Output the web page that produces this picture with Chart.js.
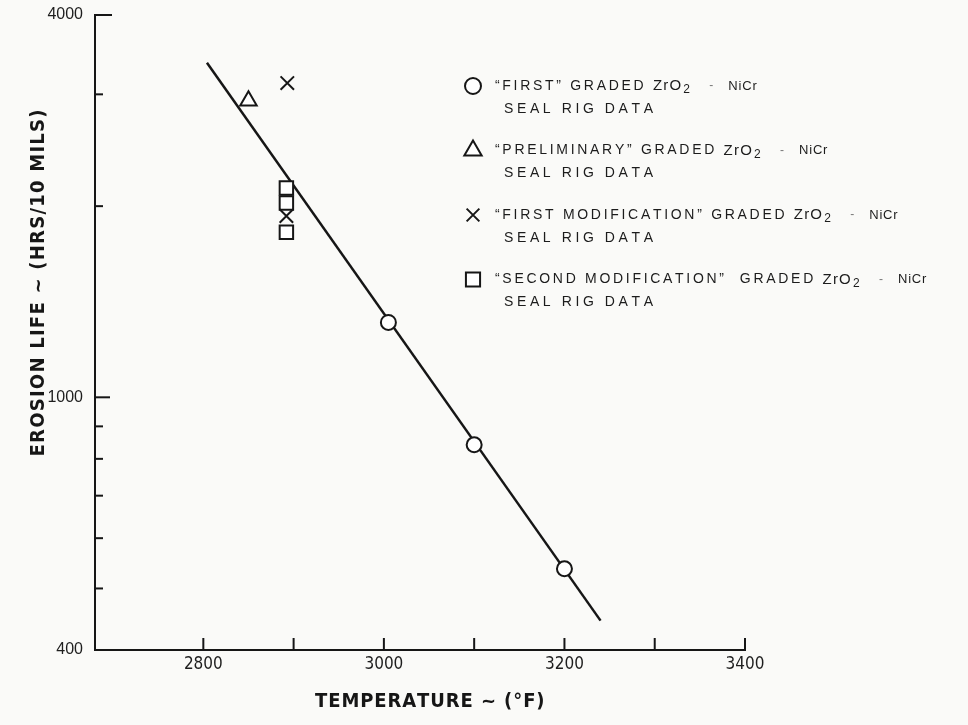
<!DOCTYPE html>
<html lang="en">
<head>
<meta charset="UTF-8">
<title>Erosion life vs temperature</title>
<script src="https://cdn.jsdelivr.net/npm/chart.js"></script>
<style>
  body { margin: 0; background: #fafaf8; }
  canvas { display: block; }
</style>
</head>
<body>
<canvas id="myChart" width="968" height="725"></canvas>
<script>
// values (temperature in F, erosion life in hrs/10 mils)
var firstTemp = [3005, 3100, 3200]
var firstLife = [1312, 842, 537]
var prelimTemp = [2850]
var prelimLife = [2930]
var mod1Temp = [2893, 2892]
var mod1Life = [3125, 1930]
var mod2Temp = [2892, 2892, 2892]
var mod2Life = [2136, 2023, 1820]
var fitTemp = [2804, 3240]
var fitLife = [3363, 445]

var xTicks = [2800, 2900, 3000, 3100, 3200, 3300, 3400]
var xLabels = [2800, 3000, 3200, 3400]
var yTicks = [400, 500, 600, 700, 800, 900, 1000, 2000, 3000, 4000]
var yLabels = [400, 1000, 4000]

var legendNames = ['\u201CFIRST\u201D GRADED ', '\u201CPRELIMINARY\u201D GRADED ',
    '\u201CFIRST MODIFICATION\u201D GRADED ', '\u201CSECOND MODIFICATION\u201D  GRADED ']
var legendStyles = ['circle', 'triangle', 'crossRot', 'rect']

var ink = '#161616'

function pts(t, v) {
    return t.map(function (x, i) { return { x: x, y: v[i] } })
}

function drawSpaced(ctx, text, x, y, spacing) {
    for (var ch of text) {
        ctx.fillText(ch, x, y)
        x += ctx.measureText(ch).width + spacing
    }
    return x
}

// centred text stretched to a given width by letter spacing
function drawFitted(ctx, text, cx, cy, width) {
    var w = ctx.measureText(text).width
    var sp = (width - w) / (text.length - 1)
    ctx.textAlign = 'left'
    drawSpaced(ctx, text, cx - width / 2, cy, sp)
}

var extras = {
    id: 'extras',
    afterDraw: function (chart) {
        var ctx = chart.ctx
        var area = chart.chartArea
        var x = chart.scales.x
        var y = chart.scales.y
        ctx.save()
        ctx.strokeStyle = ink
        ctx.fillStyle = ink
        ctx.lineWidth = 2

        // inward tick marks
        yTicks.forEach(function (v) {
            var py = y.getPixelForValue(v)
            var len = yLabels.includes(v) ? (v === 4000 ? 17 : 15) : 8
            ctx.beginPath()
            ctx.moveTo(area.left, py)
            ctx.lineTo(area.left + len, py)
            ctx.stroke()
        })
        xTicks.forEach(function (v) {
            var px = x.getPixelForValue(v)
            ctx.beginPath()
            ctx.moveTo(px, area.bottom)
            ctx.lineTo(px, area.bottom - 12)
            ctx.stroke()
        })

        // axis titles
        ctx.textBaseline = 'middle'
        ctx.font = 'bold 20px "DejaVu Sans Condensed", "DejaVu Sans"'
        drawFitted(ctx, 'TEMPERATURE ~ (\u00B0F)', 429, 702, 228)
        ctx.save()
        ctx.translate(39, 283)
        ctx.rotate(-Math.PI / 2)
        ctx.font = 'bold 20px "DejaVu Sans Condensed", "DejaVu Sans"'
        drawFitted(ctx, 'EROSION LIFE ~ (HRS/10 MILS)', 0, 0, 347)
        ctx.restore()

        // legend
        ctx.textAlign = 'left'
        legendNames.forEach(function (name, i) {
            var ly = 86 + i * 64.5
            ctx.fillStyle = '#fff'
            ctx.lineWidth = 2
            var r = [8, 10, 9, 10][i]
            Chart.helpers.drawPoint(ctx, { pointStyle: legendStyles[i], radius: r, borderWidth: 2, rotation: 0 }, 473, ly)
            ctx.fillStyle = '#1c1c1c'
            ctx.font = '14px "Liberation Sans", Arial'
            var ex = drawSpaced(ctx, name, 495, ly, 2.7)
            ctx.font = '15px "Liberation Sans", Arial'
            ex = drawSpaced(ctx, 'ZrO', ex, ly, 1.2)
            ctx.font = '12px "Liberation Sans", Arial'
            drawSpaced(ctx, '2', ex + 1, ly + 4, 0)
            ctx.fillStyle = '#777'
            drawSpaced(ctx, '-', ex + 27, ly, 0)
            ctx.fillStyle = '#1c1c1c'
            ctx.font = '13px "Liberation Sans", Arial'
            drawSpaced(ctx, 'NiCr', ex + 46, ly, 0.8)
            ctx.font = '14px "Liberation Sans", Arial'
            drawSpaced(ctx, 'SEAL RIG DATA', 504, ly + 23, 3.6)
        })
        ctx.restore()
    }
}

var marker = { backgroundColor: '#ffffff', borderColor: ink, borderWidth: 2, pointHoverRadius: 0 }

var ctx = document.getElementById('myChart')
var myChart = new Chart(ctx, {
    type: 'scatter',
    data: {
        datasets: [
            Object.assign({ label: 'first', data: pts(firstTemp, firstLife), pointStyle: 'circle', pointRadius: 7.5 }, marker),
            Object.assign({ label: 'preliminary', data: pts(prelimTemp, prelimLife), pointStyle: 'triangle', pointRadius: 9.5 }, marker),
            Object.assign({ label: 'first modification', data: pts(mod1Temp, mod1Life), pointStyle: 'crossRot', pointRadius: 9.5 }, marker),
            Object.assign({ label: 'second modification', data: pts(mod2Temp, mod2Life), pointStyle: 'rect', pointRadius: 9.5 }, marker),
            {
                label: 'fit', data: pts(fitTemp, fitLife), showLine: true, pointRadius: 0,
                borderColor: ink, borderWidth: 2.5, fill: false
            }
        ]
    },
    options: {
        responsive: false,
        animation: false,
        layout: { padding: { top: 15, right: 223, left: 0, bottom: 0 } },
        plugins: { legend: { display: false }, tooltip: { enabled: false } },
        scales: {
            x: {
                type: 'linear', min: 2680, max: 3400,
                afterBuildTicks: function (s) { s.ticks = xTicks.map(function (v) { return { value: v } }) },
                afterFit: function (s) { s.height = 75; s.paddingLeft = 0; s.paddingRight = 0 },
                grid: { drawOnChartArea: false, drawTicks: false },
                border: { color: ink, width: 2 },
                ticks: {
                    autoSkip: false, maxRotation: 0, padding: 4, color: '#1e1e1e',
                    font: { family: '"DejaVu Sans Condensed", "DejaVu Sans"', size: 17 },
                    callback: function (v) { return xLabels.includes(v) ? String(v) : '' }
                }
            },
            y: {
                type: 'logarithmic', min: 400, max: 4000,
                afterBuildTicks: function (s) { s.ticks = yTicks.map(function (v) { return { value: v } }) },
                afterFit: function (s) { s.width = 95; s.paddingTop = 0; s.paddingBottom = 0 },
                grid: { drawOnChartArea: false, drawTicks: false },
                border: { color: ink, width: 2 },
                ticks: {
                    autoSkip: false, padding: 12, color: '#1e1e1e',
                    font: { family: '"Liberation Sans", Arial', size: 16 },
                    callback: function (v) { return yLabels.includes(v) ? String(v) : '' }
                }
            }
        }
    },
    plugins: [extras]
});
</script>
</body>
</html>
